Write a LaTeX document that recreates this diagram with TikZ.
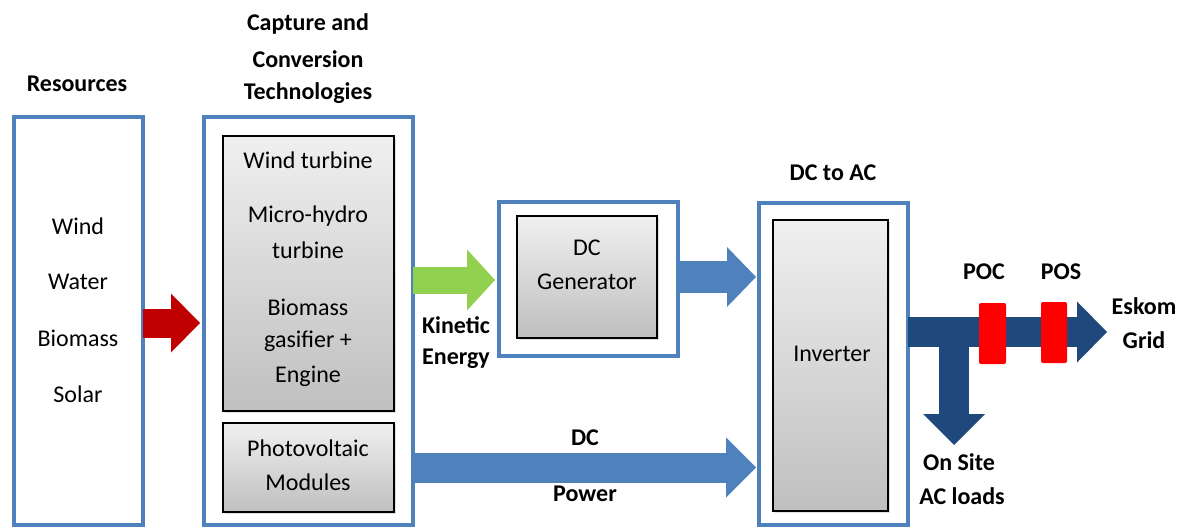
\documentclass[tikz,border=0pt]{standalone}
\usepackage{fontspec}
\setmainfont{Carlito}
\usetikzlibrary{arrows.meta,shadows}
\definecolor{frameblue}{HTML}{4F81BD}
\definecolor{flowblue}{HTML}{4F81BD}
\definecolor{gridblue}{HTML}{1F497D}
\definecolor{resred}{HTML}{C00000}
\definecolor{kingreen}{HTML}{92D050}
\begin{document}
\begin{tikzpicture}[x=1pt,y=-1pt,
  every node/.style={inner sep=0pt,outer sep=0pt,font=\fontsize{24}{28}\selectfont},
  frame/.style={draw=frameblue,line width=4pt,rectangle},
  unit/.style={draw=black,line width=1.5pt,rectangle,top color=gray!12,bottom color=gray!50,
    drop shadow={opacity=0.25,shadow xshift=2pt,shadow yshift=-2pt}},
  head/.style={font=\fontsize{24}{28}\selectfont\bfseries},
  fat/.style n args={4}{draw=#1,line width=#2pt,
    -{Triangle[length=#3pt,width=#4pt,line width=0pt]}},
  plug/.style={fill=red,rounded corners=2pt,minimum width=27pt,minimum height=61pt}]
\useasboundingbox (0,0) rectangle (1185,527);

% outer frames
\node[frame,minimum width=129pt,minimum height=408pt] (res) at (78.5,321) {};
\node[frame,minimum width=209pt,minimum height=408pt] (cap) at (308.5,321) {};
\node[frame,minimum width=179pt,minimum height=154pt] (gen) at (588.5,279) {};
\node[frame,minimum width=149pt,minimum height=322pt] (dcac) at (833.5,364) {};

% inner units
\node[unit,minimum width=171pt,minimum height=275pt] (conv) at (308.5,273.5) {};
\node[unit,minimum width=171pt,minimum height=89pt] (pv) at (308.5,467.5) {};
\node[unit,minimum width=140pt,minimum height=122pt] (dcgen) at (587,277) {};
\node[unit,minimum width=115pt,minimum height=291pt] (inv) at (830.5,365.5) {};

% headings
\node[head] (hres) at (77,84) {Resources};
\node[head] (hcap1) at (308,24) {Capture and};
\node[head] (hcap2) at (308,59) {Conversion};
\node[head] (hcap3) at (308,93) {Technologies};
\node[head] (hdcac) at (833,173) {DC to AC};

% resources
\node (wind) at (78,226) {Wind};
\node (water) at (78,282) {Water};
\node (bio) at (78,338) {Biomass};
\node (solar) at (78,394) {Solar};

% conversion technologies
\node (t1) at (308,160) {Wind turbine};
\node (t2) at (308,216) {Micro-hydro};
\node (t3) at (308,250) {turbine};
\node (t4) at (308,307) {Biomass};
\node (t5) at (308,341) {gasifier +};
\node (t6) at (308,376) {Engine};
\node (p1) at (308,448) {Photovoltaic};
\node (p2) at (308,482) {Modules};
\node (g1) at (587,248) {DC};
\node (g2) at (587,282) {Generator};
\node (invtxt) at (832,354) {Inverter};

% flow arrows
\coordinate (kin) at (0,280);
\coordinate (acrow) at (0,332);
\coordinate (grid) at (1107,332);
\coordinate (tee) at (954,332);
\coordinate (loads) at (954,445);

\draw[fat={resred}{29}{29}{59}] (res.east |- 0,323) -- ([xshift=-4pt]cap.west |- 0,323);
\draw[fat={kingreen}{27}{28}{61}] (cap.east |- kin) -- ([xshift=-4pt]gen.west |- kin);
\draw[fat={flowblue}{32}{29}{60}] (gen.east |- 0,277) -- ([xshift=-3pt]dcac.west |- 0,277);
\draw[fat={flowblue}{30}{30}{60}] (cap.east |- pv) -- ([xshift=-3pt]dcac.west |- pv);
\draw[fat={gridblue}{30}{30}{61}] (dcac.east |- acrow) -- (grid);
\draw[fat={gridblue}{30}{31}{62}] ([yshift=15pt]tee) -- (loads);

% connection and supply points
\node[plug] (poc) at (992.5,333.5) {};
\node[plug,minimum width=26pt] (pos) at (1054,332.5) {};

% flow labels
\node[head] (kin1) at (456,325) {Kinetic};
\node[head] (kin2) at (456,359) {Energy};
\node[head] (dc1) at (585,438) {DC};
\node[head] (dc2) at (585,494) {Power};
\node[head] (lpoc) at (984,272) {POC};
\node[head] (lpos) at (1061,272) {POS};
\node[head] (esk1) at (1144,306) {Eskom};
\node[head] (esk2) at (1144,340) {Grid};
\node[head] (ons1) at (959,462) {On Site};
\node[head] (ons2) at (962,496) {AC loads};
\end{tikzpicture}
\end{document}
